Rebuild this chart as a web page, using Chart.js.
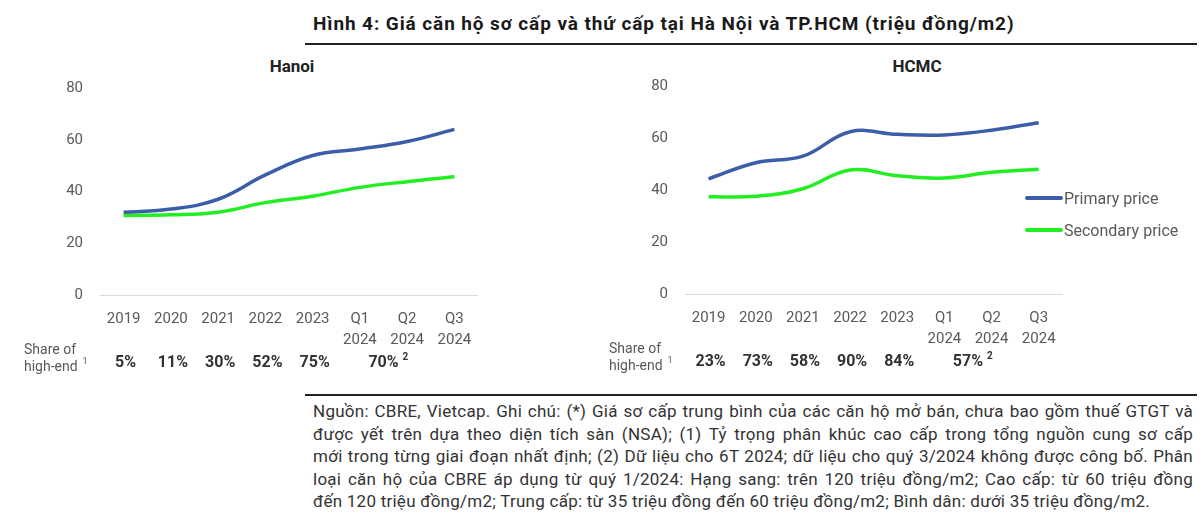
<!DOCTYPE html>
<html>
<head>
<meta charset="utf-8">
<script src="https://cdn.jsdelivr.net/npm/chart.js@4.4.1/dist/chart.umd.min.js"></script>
<style>
  body { margin: 0; width: 1200px; height: 531px; background: #fff; font-family: Roboto, sans-serif; position: relative; overflow: hidden; }
  .fig-title { position: absolute; left: 313px; top: 12px; font-size: 19px; letter-spacing: 0.9px; font-weight: bold; color: #1a1a1a; white-space: nowrap; }
  .rule { position: absolute; left: 305px; width: 892px; height: 2px; background: #222; }
  .panel-title { position: absolute; top: 56px; font-size: 17px; font-weight: bold; color: #222; transform: translateX(-50%); }
  .box { position: absolute; }
  .legend { position: absolute; left: 1025px; font-size: 16px; color: #595959; }
  .legend div { height: 32px; display: flex; align-items: center; }
  .legend span.swatch { display: inline-block; width: 38px; height: 4px; border-radius: 2px; margin-right: 1px; }
  .note { position: absolute; left: 313px; top: 400px; width: 880px; font-size: 17px; letter-spacing: 0.25px; color: #333; line-height: 22.5px; }
  .note div { text-align: justify; text-align-last: justify; white-space: nowrap; }
  .note div.last { text-align-last: left; }
</style>
</head>
<body>
<div class="fig-title">Hình 4: Giá căn hộ sơ cấp và thứ cấp tại Hà Nội và TP.HCM (triệu đồng/m2)</div>
<div class="rule" style="top:43px"></div>

<div class="panel-title" style="left:292px">Hanoi</div>
<div class="panel-title" style="left:917px">HCMC</div>

<div class="box" style="left:0px; top:62px; width:490px; height:320px"><canvas id="hanoiChart"></canvas></div>
<div class="box" style="left:600px; top:60px; width:470px; height:320px"><canvas id="hcmcChart"></canvas></div>

<div class="legend" style="top:182px">
  <div><span class="swatch" style="background:#3c5ea9"></span>Primary price</div>
  <div><span class="swatch" style="background:#22ee22"></span>Secondary price</div>
</div>

<div class="rule" style="top:394px"></div>
<div class="note">
  <div>Nguồn: CBRE, Vietcap. Ghi chú: (*) Giá sơ cấp trung bình của các căn hộ mở bán, chưa bao gồm thuế GTGT và</div>
  <div>được yết trên dựa theo diện tích sàn (NSA); (1) Tỷ trọng phân khúc cao cấp trong tổng nguồn cung sơ cấp</div>
  <div>mới trong từng giai đoạn nhất định; (2) Dữ liệu cho 6T 2024; dữ liệu cho quý 3/2024 không được công bố. Phân</div>
  <div>loại căn hộ của CBRE áp dụng từ quý 1/2024: Hạng sang: trên 120 triệu đồng/m2; Cao cấp: từ 60 triệu đồng</div>
  <div class="last">đến 120 triệu đồng/m2; Trung cấp: từ 35 triệu đồng đến 60 triệu đồng/m2; Bình dân: dưới 35 triệu đồng/m2.</div>
</div>

<script>
// categories and values (triệu đồng/m2)
const categories = ['2019', '2020', '2021', '2022', '2023', ['Q1', '2024'], ['Q2', '2024'], ['Q3', '2024']];
const hanoiPrimary = [32, 33.2, 37, 46.4, 53.9, 56.4, 59.3, 64];
const hanoiSecondary = [30.7, 31, 32, 35.7, 38.2, 41.6, 43.8, 45.7];
const hcmcPrimary = [44.3, 50.5, 53, 62.4, 61.4, 61.2, 63, 65.9];
const hcmcSecondary = [37.4, 37.6, 40.5, 47.7, 45.5, 44.6, 46.8, 48];
const yTicks = [0, 20, 40, 60, 80];

// share of high-end supply, yearly then 6M 2024 (spans Q1-Q2)
const hanoiShare = ['5%', '11%', '30%', '52%', '75%'];
const hanoiShare6M = '70%';
const hcmcShare = ['23%', '73%', '58%', '90%', '84%'];
const hcmcShare6M = '57%';

const PRIMARY = '#3c5ea9';
const SECONDARY = '#22ee22';
const TICK = '#595959';

// draws the "Share of high-end" row under the x axis
const shareRow = {
    id: 'shareRow',
    afterDraw(chart, args, opts) {
        const ctx = chart.ctx;
        const x = chart.scales.x;
        const base = chart.chartArea.bottom;
        ctx.save();
        ctx.textBaseline = 'middle';
        ctx.fillStyle = TICK;
        ctx.font = '14px Roboto';
        ctx.textAlign = 'left';
        ctx.fillText('Share of', opts.labelX, base + 55);
        ctx.fillText('high-end', opts.labelX, base + 72);
        const w = ctx.measureText('high-end').width;
        ctx.font = '9px Roboto';
        ctx.fillText('1', opts.labelX + w + 5, base + 67);

        ctx.fillStyle = '#333';
        ctx.font = 'bold 16px Roboto';
        ctx.textAlign = 'center';
        opts.values.forEach((v, i) => {
            ctx.fillText(v, x.getPixelForValue(i) + 2, base + 68);
        });
        const mid = (x.getPixelForValue(5) + x.getPixelForValue(6)) / 2;
        ctx.fillText(opts.half, mid, base + 68);
        const hw = ctx.measureText(opts.half).width;
        ctx.font = 'bold 10px Roboto';
        ctx.textAlign = 'left';
        ctx.fillText('2', mid + hw / 2 + 4, base + 62);
        ctx.restore();
    }
};

function makeChart(id, primary, secondary, yWidth, padRight, padTop, xHeight, share, half, labelX) {
    return new Chart(document.getElementById(id), {
        type: 'line',
        data: {
            labels: categories,
            datasets: [{
                label: 'Primary price',
                data: primary,
                borderColor: PRIMARY,
                borderWidth: 3.5,
                pointRadius: 0,
                tension: 0.4
            }, {
                label: 'Secondary price',
                data: secondary,
                borderColor: SECONDARY,
                borderWidth: 3.5,
                pointRadius: 0,
                tension: 0.4
            }]
        },
        options: {
            responsive: true,
            maintainAspectRatio: false,
            animation: false,
            layout: { padding: { top: padTop, right: padRight, left: 0, bottom: 0 } },
            plugins: {
                legend: { display: false },
                tooltip: { enabled: false },
                shareRow: { values: share, half: half, labelX: labelX }
            },
            scales: {
                x: {
                    offset: true,
                    grid: { display: false, drawTicks: false },
                    border: { display: false },
                    ticks: {
                        color: TICK,
                        padding: 14,
                        maxRotation: 0,
                        autoSkip: false,
                        font: { family: 'Roboto', size: 15, lineHeight: 1.4 }
                    },
                    afterFit: (s) => { s.height = xHeight; }
                },
                y: {
                    min: 0,
                    max: 80,
                    afterBuildTicks: (s) => { s.ticks = yTicks.map(v => ({ value: v })); },
                    grid: {
                        drawTicks: false,
                        color: (c) => c.tick && c.tick.value === 0 ? '#d9d9d9' : 'rgba(0,0,0,0)'
                    },
                    border: { display: false },
                    ticks: {
                        color: TICK,
                        padding: 17,
                        font: { family: 'Roboto', size: 15 }
                    },
                    afterFit: (s) => { s.width = yWidth; }
                }
            }
        },
        plugins: [shareRow]
    });
}

makeChart('hanoiChart', hanoiPrimary, hanoiSecondary, 100, 12, 20, 87, hanoiShare, hanoiShare6M, 24);
makeChart('hcmcChart', hcmcPrimary, hcmcSecondary, 85, 7, 21, 86, hcmcShare, hcmcShare6M, 9);
</script>
</body>
</html>
